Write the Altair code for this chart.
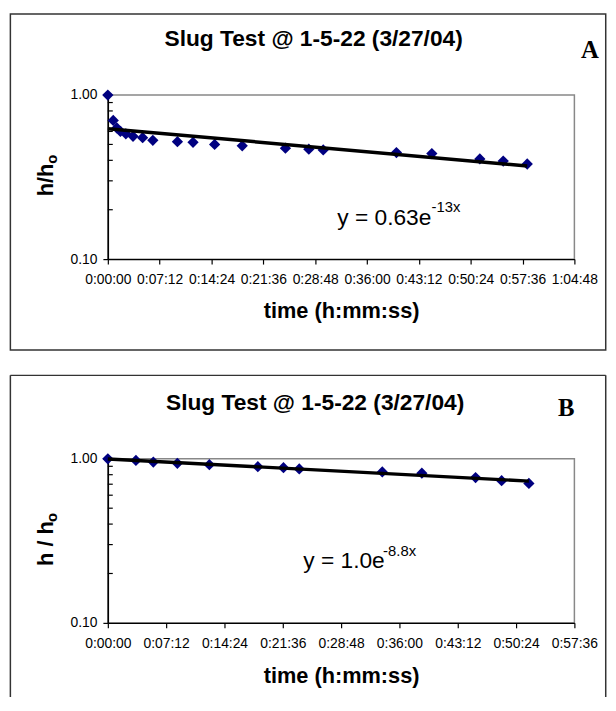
import altair as alt
import pandas as pd

# ---------------- data ----------------
# Panel A : elapsed time in seconds and normalised head h/ho
time_a = [0, 45, 75, 105, 150, 210, 290, 375, 580, 710, 890, 1120, 1480,
          1675, 1795, 2405, 2700, 3100, 3295, 3495]
ratio_a = [1.00, 0.70, 0.63, 0.60, 0.58, 0.56, 0.55, 0.53, 0.52, 0.515, 0.50,
           0.49, 0.474, 0.468, 0.463, 0.446, 0.44, 0.408, 0.396, 0.38]

# Panel B
time_b = [0, 208, 337, 515, 752, 1111, 1301, 1418, 2033, 2326, 2724, 2917, 3119]
ratio_b = [1.00, 0.978, 0.955, 0.938, 0.92, 0.895, 0.883, 0.867, 0.832, 0.817,
           0.769, 0.735, 0.708]

x_ticks_a = [0, 432, 864, 1296, 1728, 2160, 2592, 3024, 3456, 3888]
x_ticks_b = [0, 432, 864, 1296, 1728, 2160, 2592, 3024, 3456]
y_major = [0.1, 1.0]
y_minor = [0.2, 0.3, 0.4, 0.5, 0.6, 0.7, 0.8, 0.9]

title_text = "Slug Test @ 1-5-22 (3/27/04)"
x_title = "time (h:mm:ss)"

SANS = "Liberation Sans"
SERIF = "Liberation Serif"
NAVY = "#000080"
W, H = 472, 166


def text_layer(txt, x, y, size, bold=False, align="left", angle=0, font=SANS):
    kw = dict(text=txt, fontSize=size, font=font, align=align,
              baseline="alphabetic", color="black",
              fontWeight="bold" if bold else "normal")
    if angle:
        kw["angle"] = angle
    return alt.Chart(alt.Data(values=[{}])).mark_text(**kw).encode(
        x=alt.value(x), y=alt.value(y))


def rule_layer(x, x2, y, y2, color="#333333", width=1.5):
    return alt.Chart(alt.Data(values=[{}])).mark_rule(
        color=color, strokeWidth=width).encode(
        x=alt.value(x), x2=alt.value(x2), y=alt.value(y), y2=alt.value(y2))


def panel(times, ratios, xmax, xticks, letter, letter_x, letter_y,
          ytitle, ytitle_y, sub_y, eq_main, eq_sup, eq_x, eq_y, sup_x, sup_y,
          title_x, title_y, xt_y, frame_top, frame_bottom, closed):
    df = pd.DataFrame({"t": times, "v": ratios})
    xs = alt.Scale(domain=[0, xmax], nice=False, zero=False)
    ys = alt.Scale(type="log", domain=[0.1, 1.0], nice=False)
    ax = alt.Axis(values=xticks, title=None, grid=False,
                  labelExpr="utcFormat(datum.value*1000, '%-H:%M:%S')",
                  labelFlush=False, labelOverlap=False, labelPadding=9,
                  tickSize=5)
    ay = alt.Axis(values=y_major, format=".2f", title=None, grid=False,
                  labelPadding=6, tickSize=5, labelFlush=False)

    pts = alt.Chart(df).mark_point(
        shape="diamond", filled=True, size=130, color=NAVY, opacity=1
    ).encode(
        x=alt.X("t:Q", scale=xs, axis=ax),
        y=alt.Y("v:Q", scale=ys, axis=ay),
    )

    fit = alt.Chart(df).transform_calculate(
        ly="log(datum.v)"
    ).transform_regression("t", "ly", method="linear").transform_calculate(
        fit="exp(datum.ly)"
    ).mark_line(color="black", strokeWidth=3.5).encode(
        x=alt.X("t:Q", scale=xs, axis=ax),
        y=alt.Y("fit:Q", scale=ys, axis=ay),
    )

    minor = alt.Chart(pd.DataFrame({"m": y_minor})).mark_rule(
        color="black", strokeWidth=1.2
    ).encode(
        y=alt.Y("m:Q", scale=ys, axis=ay),
        x=alt.value(0), x2=alt.value(5),
    )

    layers = []
    if closed:
        layers.append(alt.Chart(alt.Data(values=[{}])).mark_rect(
            fill=None, stroke="#333333", strokeWidth=1.5).encode(
            x=alt.value(-98.6), x2=alt.value(503.7),
            y=alt.value(frame_top), y2=alt.value(frame_bottom)))
    else:
        layers += [
            rule_layer(-98.6, 503.7, frame_top, frame_top),
            rule_layer(-98.6, -98.6, frame_top, frame_bottom),
            rule_layer(503.7, 503.7, frame_top, frame_bottom),
        ]

    layers += [
        minor, pts, fit,
        text_layer(title_text, title_x, title_y, 23, bold=True, align="center"),
        text_layer(letter, letter_x, letter_y, 25, bold=True, align="center",
                   font=SERIF),
        text_layer(x_title, 236.5, xt_y, 22, bold=True, align="center"),
        text_layer(ytitle, -55, ytitle_y, 22, bold=True, align="center",
                   angle=270),
        text_layer("o", -51, sub_y, 15, bold=True, align="center", angle=270),
        text_layer(eq_main, eq_x, eq_y, 23),
        text_layer(eq_sup, sup_x, sup_y, 15),
    ]
    return alt.layer(*layers).properties(width=W, height=H)


chart_a = panel(time_a, ratio_a, 3888, x_ticks_a, "A", 487.7, -37.4,
                "h/h", 86, 65, "y = 0.63e", "-13x", 232.1, 131, 327.5, 118.6,
                208.2, -50, 225.3, -82, 258, True)

chart_b = panel(time_b, ratio_b, 3456, x_ticks_b, "B", 463.7, -43.4,
                "h / h", 85.8, 59.3, "y = 1.0e", "-8.8x", 197.7, 110, 278.5, 98.3,
                209.7, -49.4, 226.6, -84.4, 241, False)

chart = alt.vconcat(chart_a, chart_b, spacing=22).properties(
    padding=0
).configure_view(
    stroke="#888888", strokeWidth=1.5
).configure_axis(
    domainColor="black", domainWidth=1.5, tickColor="black", tickWidth=1.2,
    labelFont=SANS, labelFontSize=14, labelColor="black"
)

chart.save("out.html", embed_options={"renderer": "svg", "actions": False})
